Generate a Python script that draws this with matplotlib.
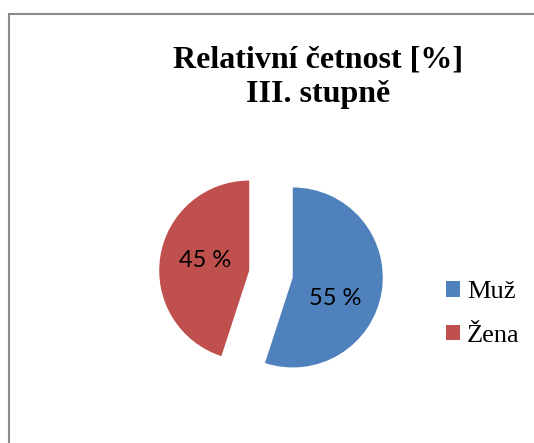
import matplotlib.pyplot as plt
from matplotlib.patches import Rectangle

# relative frequency by sex, grade III
labels = ['Muž', 'Žena']
shares = [55, 45]
colors = ['#4F81BD', '#C0504D']
title_lines = ['Relativní četnost [%]', 'III. stupně']

W, H = 534, 443
fig = plt.figure(figsize=(W / 100, H / 100), dpi=100)

# grey chart-area frame (right and bottom edges fall outside the image)
fig.patches.append(Rectangle((9 / W, -0.1), 1.2, (H - 14) / H + 0.1,
                             transform=fig.transFigure, fill=False,
                             edgecolor='#8a8a8a', linewidth=1.5))

# two-line bold title, one text per baseline
for line, base in zip(title_lines, [67, 102]):
    fig.text(318.5 / W, 1 - base / H, line, ha='center', va='baseline',
             family='Liberation Serif', fontweight='bold', fontsize=23)

# pie axes: 90 px radius, centred at (271, 274)
L = 1.5
R = 90
cx, cy = 271, H - 274
ax = fig.add_axes([(cx - L * R) / W, (cy - L * R) / H, 2 * L * R / W, 2 * L * R / H])
wedges, _, autotexts = ax.pie(shares, colors=colors, startangle=90, counterclock=False,
                              explode=[0.245, 0.245], autopct=lambda p: f'{p:.0f} %',
                              textprops=dict(family='Lato', fontsize=17, color='black'))
ax.set_xlim(-L, L)
ax.set_ylim(-L, L)
ax.set_aspect('auto')
ax.axis('off')

# place the percentage labels relative to each exploded wedge's centre
offsets = [(0.47, -0.23), (-0.49, 0.11)]
for w, t, (dx, dy) in zip(wedges, autotexts, offsets):
    x0, y0 = w.center
    t.set_position((x0 + dx, y0 + dy))

fig.legend(wedges, labels, loc='center left', bbox_to_anchor=(446 / W, 1 - 314 / H),
           frameon=False, prop=dict(family='Liberation Serif', size=19),
           handlelength=0.53, handleheight=0.53, handletextpad=0.27, labelspacing=0.8,
           borderpad=0, borderaxespad=0)

fig.savefig('out.png', dpi=100)
